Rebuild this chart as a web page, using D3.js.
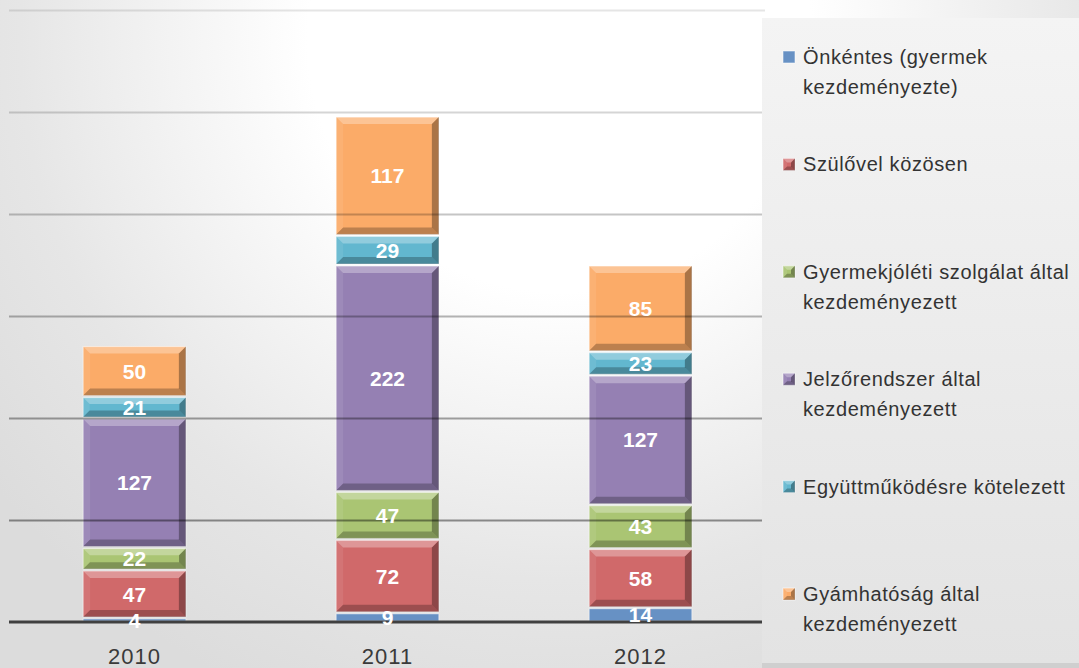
<!DOCTYPE html>
<html>
<head>
	<meta charset="utf-8">
	<title>Stacked bars</title>
	<script type="text/javascript" src="https://cdnjs.cloudflare.com/ajax/libs/d3/7.8.5/d3.min.js"></script>
	<style>
		body { margin: 0; padding: 0; overflow: hidden; }
	</style>
</head>
<body>
<svg id="chart" width="1079" height="668"></svg>
<script type="text/javascript">
	// data
	var years = ["2010", "2011", "2012"];
	var seriesNames = [
		["Önkéntes (gyermek", "kezdeményezte)"],
		["Szülővel közösen"],
		["Gyermekjóléti szolgálat által", "kezdeményezett"],
		["Jelzőrendszer által", "kezdeményezett"],
		["Együttműködésre kötelezett"],
		["Gyámhatóság által", "kezdeményezett"]
	];
	var onkentes = [4, 9, 14];
	var szulovel = [47, 72, 58];
	var gyermekjoleti = [22, 47, 43];
	var jelzorendszer = [127, 222, 127];
	var egyuttmukodes = [21, 29, 23];
	var gyamhatosag = [50, 117, 85];
	var gridTicks = [100, 200, 300, 400, 500, 600];

	var seriesValues = [onkentes, szulovel, gyermekjoleti, jelzorendszer, egyuttmukodes, gyamhatosag];
	var colors = ["#6791c4", "#d0696a", "#aac573", "#9580b3", "#62b7cf", "#fbab68"];

	var svg = d3.select("#chart");
	var W = 1079, H = 668;

	// background
	var defs = svg.append("defs");
	var bg = defs.append("radialGradient").attr("id", "bg")
		.attr("gradientUnits", "userSpaceOnUse")
		.attr("cx", 560).attr("cy", 40).attr("r", 720);
	bg.append("stop").attr("offset", "0%").attr("stop-color", "#ffffff");
	bg.append("stop").attr("offset", "35%").attr("stop-color", "#ffffff");
	bg.append("stop").attr("offset", "75%").attr("stop-color", "#e6e6e6");
	bg.append("stop").attr("offset", "100%").attr("stop-color", "#dcdcdc");
	svg.append("rect").attr("width", W).attr("height", H).attr("fill", "url(#bg)");

	var lg = defs.append("linearGradient").attr("id", "legbg")
		.attr("x1", 0).attr("y1", 0).attr("x2", 0).attr("y2", 1);
	lg.append("stop").attr("offset", "0%").attr("stop-color", "#f4f4f4");
	lg.append("stop").attr("offset", "100%").attr("stop-color", "#e3e3e3");

	var x = d3.scaleBand().domain(years).range([8, 767]).paddingInner(0.59).paddingOuter(0.295);
	var y = d3.scaleLinear().domain([0, 600]).range([622, 10]);

	var stackData = years.map(function(yr, i) {
		var row = { year: yr };
		seriesValues.forEach(function(s, k) { row["s" + k] = s[i]; });
		return row;
	});
	var keys = seriesValues.map(function(s, k) { return "s" + k; });
	var stacked = d3.stack().keys(keys)(stackData);

	function bevel(g, x0, y0, w, h, color, flat) {
		g.append("rect").attr("x", x0).attr("y", y0).attr("width", w).attr("height", h)
			.attr("fill", color).attr("stroke", "rgba(255,255,255,0.55)").attr("stroke-width", 1);
		if (flat) return;
		var b = Math.min(7, h / 3);
		var polys = [
			[[x0, y0], [x0 + w, y0], [x0 + w - b, y0 + b], [x0 + b, y0 + b], "#ffffff", 0.3],
			[[x0, y0], [x0 + b, y0 + b], [x0 + b, y0 + h - b], [x0, y0 + h], "#ffffff", 0.08],
			[[x0 + w, y0], [x0 + w, y0 + h], [x0 + w - b, y0 + h - b], [x0 + w - b, y0 + b], "#000000", 0.32],
			[[x0, y0 + h], [x0 + w, y0 + h], [x0 + w - b, y0 + h - b], [x0 + b, y0 + h - b], "#000000", 0.25]
		];
		polys.forEach(function(p) {
			g.append("polygon")
				.attr("points", p.slice(0, 4).map(function(q) { return q.join(","); }).join(" "))
				.attr("fill", p[4]).attr("fill-opacity", p[5]);
		});
	}

	// bars
	var bars = svg.append("g");
	stacked.forEach(function(layer, k) {
		layer.forEach(function(d, i) {
			var x0 = x(years[i]) + 0.5, w = x.bandwidth() - 1;
			var y0 = y(d[1]) + 1, h = y(d[0]) - y(d[1]) - 2;
			bevel(bars, x0, y0, w, Math.max(h, 1), colors[k], k === 0);
		});
	});

	// gridlines, drawn over the bars
	var gridOpacity = d3.scaleLinear().domain([100, 600]).range([0.42, 0.1]);
	svg.append("g").selectAll("line").data(gridTicks).enter().append("line")
		.attr("x1", 9).attr("x2", 765)
		.attr("y1", function(d) { return Math.round(y(d)) + 0.5; })
		.attr("y2", function(d) { return Math.round(y(d)) + 0.5; })
		.attr("stroke", "#000").attr("stroke-opacity", function(d) { return gridOpacity(d); })
		.attr("stroke-width", 2);

	// x axis
	var xAxis = svg.append("g").attr("transform", "translate(0," + y(0) + ")")
		.call(d3.axisBottom(x).tickSize(0).tickPadding(30));
	xAxis.select(".domain").attr("d", "M9,0H765").attr("stroke", "#404040").attr("stroke-width", 3);
	xAxis.selectAll("text").attr("font-family", "Liberation Sans, Arial, sans-serif")
		.attr("font-size", 22).attr("fill", "#3a3a3a").attr("dy", "0.55em")
		.attr("letter-spacing", 1);

	// value labels
	var labels = svg.append("g");
	stacked.forEach(function(layer, k) {
		layer.forEach(function(d, i) {
			labels.append("text")
				.attr("x", x(years[i]) + x.bandwidth() / 2)
				.attr("y", (y(d[0]) + y(d[1])) / 2)
				.attr("text-anchor", "middle").attr("dy", "0.36em")
				.attr("font-family", "Liberation Sans, Arial, sans-serif")
				.attr("font-weight", "bold").attr("font-size", 21)
				.attr("fill", "#ffffff")
				.text(d.data["s" + k]);
		});
	});

	// legend
	svg.append("rect").attr("x", 762).attr("y", 18).attr("width", W - 762).attr("height", 645)
		.attr("fill", "url(#legbg)");
	svg.append("rect").attr("x", 762).attr("y", 663).attr("width", W - 762).attr("height", 5)
		.attr("fill", "#cfcfcf");
	var legend = svg.append("g");
	seriesNames.forEach(function(lines, k) {
		var top = 57 + k * 107.4;
		bevel(legend, 783, top - 6, 12, 12, colors[k], k === 0);
		lines.forEach(function(t, j) {
			legend.append("text")
				.attr("x", 803).attr("y", top + j * 30).attr("dy", "0.35em")
				.attr("font-family", "Liberation Sans, Arial, sans-serif")
				.attr("font-size", 20).attr("letter-spacing", 0.6).attr("fill", "#333")
				.text(t);
		});
	});
</script>
</body>
</html>
